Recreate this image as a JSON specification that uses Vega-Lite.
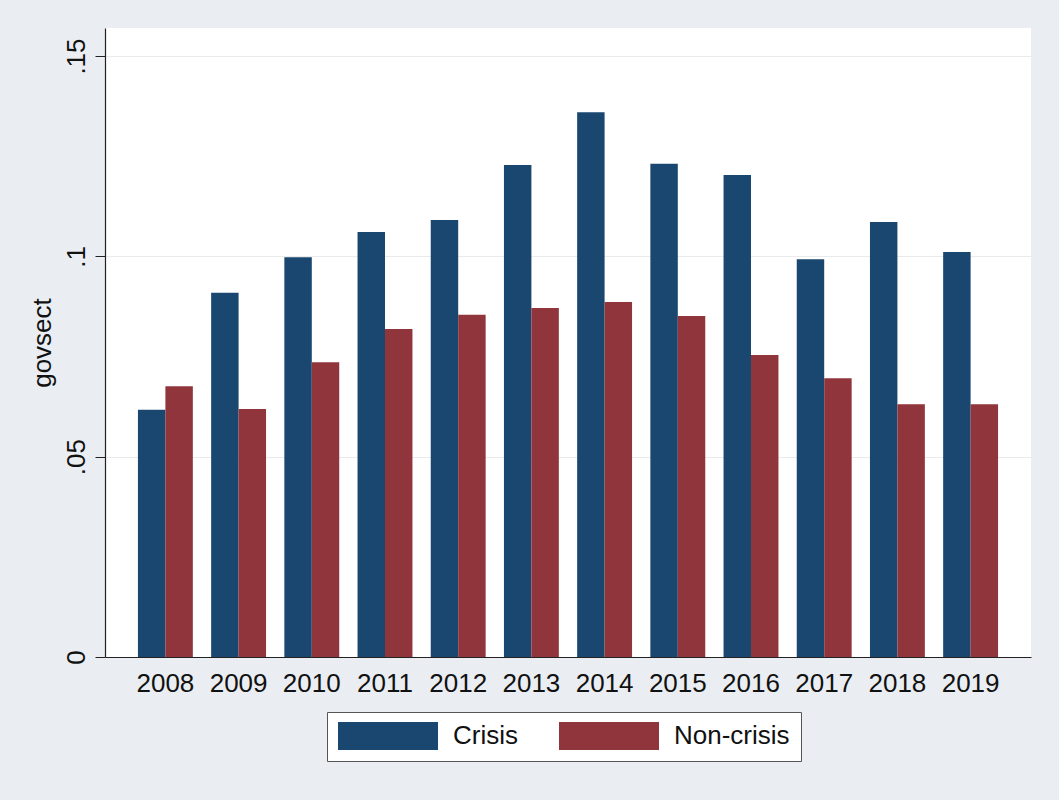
{
  "$schema": "https://vega.github.io/schema/vega-lite/v6.json",
  "width": 926,
  "height": 629,
  "autosize": {"type": "none"},
  "padding": {"left": 105, "top": 28, "right": 28, "bottom": 143},
  "background": "#eaeef3",
  "config": {
    "font": "Liberation Sans",
    "view": {"fill": "white", "stroke": null},
    "axis": {"labelColor": "#111111", "titleColor": "#111111"}
  },
  "data": {
    "values": [
      {"year": "2008", "group": "Crisis", "govsect": 0.0617},
      {"year": "2008", "group": "Non-crisis", "govsect": 0.0676},
      {"year": "2009", "group": "Crisis", "govsect": 0.0909},
      {"year": "2009", "group": "Non-crisis", "govsect": 0.0619},
      {"year": "2010", "group": "Crisis", "govsect": 0.0998},
      {"year": "2010", "group": "Non-crisis", "govsect": 0.0736},
      {"year": "2011", "group": "Crisis", "govsect": 0.1061},
      {"year": "2011", "group": "Non-crisis", "govsect": 0.0819},
      {"year": "2012", "group": "Crisis", "govsect": 0.1091},
      {"year": "2012", "group": "Non-crisis", "govsect": 0.0854},
      {"year": "2013", "group": "Crisis", "govsect": 0.1228},
      {"year": "2013", "group": "Non-crisis", "govsect": 0.0871},
      {"year": "2014", "group": "Crisis", "govsect": 0.1360},
      {"year": "2014", "group": "Non-crisis", "govsect": 0.0886},
      {"year": "2015", "group": "Crisis", "govsect": 0.1231},
      {"year": "2015", "group": "Non-crisis", "govsect": 0.0851},
      {"year": "2016", "group": "Crisis", "govsect": 0.1203},
      {"year": "2016", "group": "Non-crisis", "govsect": 0.0754},
      {"year": "2017", "group": "Crisis", "govsect": 0.0993},
      {"year": "2017", "group": "Non-crisis", "govsect": 0.0696},
      {"year": "2018", "group": "Crisis", "govsect": 0.1086},
      {"year": "2018", "group": "Non-crisis", "govsect": 0.0631},
      {"year": "2019", "group": "Crisis", "govsect": 0.1011},
      {"year": "2019", "group": "Non-crisis", "govsect": 0.0631}
    ]
  },
  "mark": {"type": "bar"},
  "encoding": {
    "x": {
      "field": "year",
      "type": "nominal",
      "scale": {"paddingInner": 0.25, "paddingOuter": 0.45},
      "axis": {
        "title": null,
        "labelAngle": 0,
        "labelFontSize": 26,
        "ticks": false,
        "labelPadding": 13,
        "domainColor": "#222222",
        "domainWidth": 1.2,
        "grid": false
      }
    },
    "xOffset": {"field": "group", "type": "nominal", "scale": {"paddingInner": 0, "paddingOuter": 0}},
    "y": {
      "field": "govsect",
      "type": "quantitative",
      "scale": {"domain": [0, 0.157], "nice": false, "zero": true},
      "axis": {
        "title": "govsect",
        "titleFontSize": 26,
        "titleFontWeight": "normal",
        "titlePadding": 8,
        "values": [0, 0.05, 0.1, 0.15],
        "labelExpr": "datum.value == 0 ? '0' : replace(toString(datum.value), '0.', '.')",
        "labelAngle": -90,
        "labelAlign": "center",
        "labelBaseline": "bottom",
        "labelFontSize": 26,
        "labelPadding": 6,
        "tickSize": 10,
        "tickColor": "#222222",
        "domainColor": "#222222",
        "domainWidth": 1.2,
        "gridColor": "#e8eaec",
        "gridWidth": 1.2
      }
    },
    "color": {
      "field": "group",
      "type": "nominal",
      "scale": {"domain": ["Crisis", "Non-crisis"], "range": ["#1a476f", "#90353b"]},
      "legend": {
        "title": null,
        "orient": "none",
        "direction": "horizontal",
        "legendX": 222,
        "legendY": 684,
        "symbolType": "M-1.3,-1.4H8.7V1.4H-1.3Z",
        "symbolSize": 400,
        "symbolStrokeWidth": 0,
        "symbolOpacity": 1,
        "labelFontSize": 26,
        "labelColor": "#111111",
        "labelOffset": 89,
        "labelExpr": "datum.label == 'Non-crisis' ? datum.label + '\u00a0' : datum.label",
        "columnPadding": 41,
        "padding": 11,
        "fillColor": "white",
        "strokeColor": "#555555"
      }
    }
  }
}
